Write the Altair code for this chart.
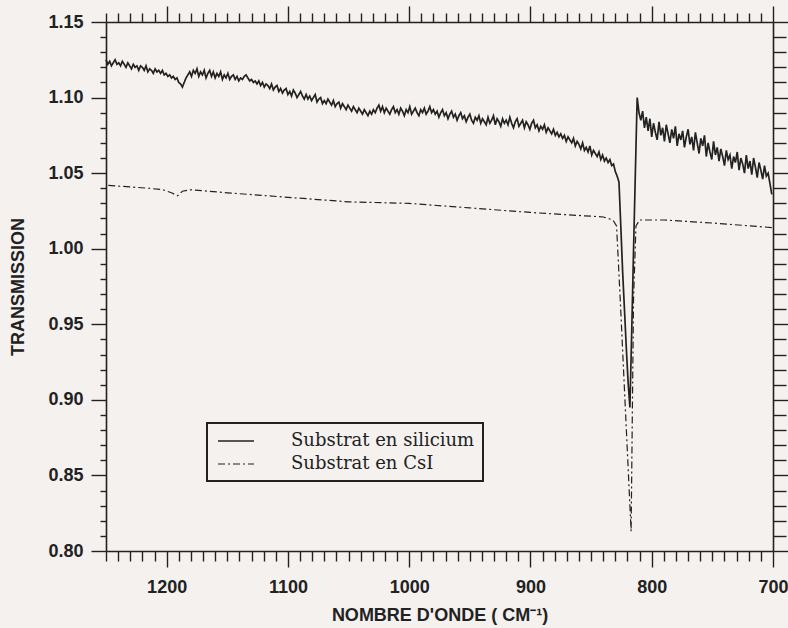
import altair as alt
import pandas as pd

# --- data ---
series_names = ["Substrat en silicium", "Substrat en CsI"]

si_wn = [1250 - 1.5 * k for k in range(367)]  # sampling grid, 1250 ... 701
si_t = [
    1.125, 1.122, 1.124, 1.121, 1.123, 1.125, 1.122, 1.123, 1.121, 1.124,
    1.122, 1.120, 1.123, 1.121, 1.119, 1.122, 1.120, 1.121, 1.118, 1.121,
    1.120, 1.118, 1.121, 1.117, 1.119, 1.118, 1.116, 1.119, 1.117, 1.118,
    1.116, 1.118, 1.115, 1.116, 1.114, 1.115, 1.113, 1.114, 1.112, 1.113,
    1.110, 1.109, 1.107, 1.110, 1.113, 1.115, 1.117, 1.114, 1.118, 1.116,
    1.119, 1.114, 1.117, 1.115, 1.118, 1.113, 1.116, 1.118, 1.114, 1.117,
    1.113, 1.116, 1.114, 1.117, 1.112, 1.115, 1.113, 1.116, 1.112, 1.114,
    1.115, 1.112, 1.114, 1.111, 1.113, 1.112, 1.114, 1.115, 1.113, 1.111,
    1.112, 1.110, 1.111, 1.109, 1.111, 1.108, 1.110, 1.107, 1.109, 1.108,
    1.106, 1.109, 1.105, 1.107, 1.108, 1.104, 1.106, 1.103, 1.105, 1.106,
    1.102, 1.104, 1.101, 1.105, 1.103, 1.100, 1.102, 1.104, 1.101, 1.099,
    1.102, 1.099, 1.101, 1.098, 1.100, 1.102, 1.097, 1.099, 1.100, 1.096,
    1.098, 1.096, 1.099, 1.097, 1.095, 1.098, 1.094, 1.096, 1.097, 1.093,
    1.096, 1.094, 1.092, 1.095, 1.093, 1.091, 1.094, 1.092, 1.090, 1.093,
    1.091, 1.089, 1.092, 1.090, 1.088, 1.091, 1.089, 1.092, 1.090, 1.093,
    1.095, 1.091, 1.094, 1.090, 1.093, 1.091, 1.089, 1.092, 1.094, 1.090,
    1.092, 1.089, 1.093, 1.091, 1.088, 1.092, 1.090, 1.094, 1.089, 1.091,
    1.093, 1.090, 1.088, 1.092, 1.090, 1.093, 1.089, 1.091, 1.094, 1.090,
    1.092, 1.089, 1.091, 1.087, 1.090, 1.092, 1.088, 1.090, 1.086, 1.089,
    1.091, 1.087, 1.089, 1.085, 1.088, 1.090, 1.086, 1.088, 1.084, 1.087,
    1.089, 1.085, 1.083, 1.087, 1.085, 1.088, 1.083, 1.086, 1.084, 1.082,
    1.087, 1.083, 1.085, 1.088, 1.082, 1.086, 1.084, 1.081, 1.086, 1.083,
    1.085, 1.082, 1.087, 1.083, 1.080, 1.084, 1.086, 1.081, 1.083, 1.085,
    1.080, 1.084, 1.082, 1.079, 1.083, 1.085, 1.080, 1.082, 1.078, 1.081,
    1.079, 1.082, 1.077, 1.080, 1.078, 1.076, 1.079, 1.075, 1.077, 1.074,
    1.076, 1.073, 1.075, 1.071, 1.074, 1.072, 1.070, 1.073, 1.068, 1.071,
    1.069, 1.066, 1.070, 1.065, 1.067, 1.064, 1.068, 1.062, 1.065, 1.063,
    1.061, 1.064, 1.059, 1.062, 1.058, 1.060, 1.057, 1.059, 1.055, 1.056,
    1.051, 1.048, 1.044, 1.015, 0.985, 0.960, 0.935, 0.912, 0.895, 0.945,
    0.999, 1.050, 1.100, 1.090, 1.085, 1.091, 1.080, 1.087, 1.078, 1.086,
    1.074, 1.083, 1.077, 1.072, 1.084, 1.075, 1.080, 1.071, 1.082, 1.076,
    1.070, 1.079, 1.073, 1.081, 1.068, 1.076, 1.072, 1.078, 1.067, 1.074,
    1.079, 1.069, 1.074, 1.065, 1.077, 1.070, 1.063, 1.073, 1.068, 1.075,
    1.061, 1.070, 1.064, 1.059, 1.071, 1.062, 1.067, 1.058, 1.066, 1.061,
    1.055, 1.065, 1.059, 1.062, 1.053, 1.061, 1.057, 1.064, 1.052, 1.060,
    1.056, 1.050, 1.062, 1.053, 1.058, 1.049, 1.060, 1.054, 1.047, 1.057,
    1.052, 1.046, 1.055, 1.048, 1.050, 1.043, 1.036,
]

csi_wn = [1250, 1215, 1203, 1196, 1191, 1187, 1180, 1150, 1100, 1050, 1000,
          950, 900, 860, 840, 832, 829, 826, 817, 815, 813, 810, 790, 750, 701]
csi_t = [1.042, 1.040, 1.039, 1.037, 1.035, 1.038, 1.039, 1.037, 1.034, 1.031, 1.030,
         1.027, 1.024, 1.022, 1.021, 1.019, 1.015, 0.967, 0.813, 0.967, 1.015, 1.019,
         1.019, 1.017, 1.014]

x_ticks = list(range(700, 1251, 10))
y_ticks = [round(0.80 + 0.01 * i, 2) for i in range(36)]

df = pd.concat([
    pd.DataFrame({"wn": si_wn, "t": si_t, "s": series_names[0]}),
    pd.DataFrame({"wn": csi_wn, "t": csi_t, "s": series_names[1]}),
])

INK = "#222222"
FONT = "Liberation Sans"

xscale = alt.Scale(domain=[1250, 700], nice=False, zero=False)
yscale = alt.Scale(domain=[0.80, 1.15], nice=False, zero=False)

xmaj = "datum.value % 100 === 0"
ymaj = "round(datum.value * 100) % 5 === 0"

ax_bottom = alt.Axis(
    orient="bottom", values=x_ticks, grid=False,
    tickSize={"condition": {"test": xmaj, "value": 16}, "value": 10},
    labelExpr=f"{xmaj} ? format(datum.value, 'd') : ''", labelOverlap=False,
    labelFlush=False, labelPadding=11, labelFont=FONT, labelFontSize=18,
    labelFontWeight="bold", labelColor=INK,
    title="NOMBRE D'ONDE ( CM⁻¹)", titleFont=FONT, titleFontSize=18,
    titleFontWeight="bold", titleColor=INK, titleY=69, titleBaseline="alphabetic",
)
ax_left = alt.Axis(
    orient="left", values=y_ticks, grid=False,
    tickSize={"condition": {"test": ymaj, "value": 15}, "value": 6},
    labelExpr=f"{ymaj} ? format(datum.value, '.2f') : ''", labelOverlap=False,
    labelFlush=False, labelPadding=8, labelFont=FONT, labelFontSize=18,
    labelFontWeight="bold", labelColor=INK,
    title="TRANSMISSION", titleFont=FONT, titleFontSize=18, titleFontWeight="bold",
    titleColor=INK, titleX=-88, titleY=264.5, titleAngle=270,
    titleBaseline="middle", titleAlign="center",
)
ax_top = alt.Axis(
    orient="top", values=x_ticks, grid=False, labels=False, title=None,
    tickSize={"condition": {"test": xmaj, "value": 16}, "value": 9},
)
ax_right = alt.Axis(
    orient="right", values=y_ticks, grid=False, labels=False, title=None,
    tickSize={"condition": {"test": ymaj, "value": 15}, "value": 13},
)

lines = alt.Chart(df).mark_line(color=INK).encode(
    x=alt.X("wn:Q", scale=xscale, axis=ax_bottom),
    y=alt.Y("t:Q", scale=yscale, axis=ax_left),
    strokeDash=alt.StrokeDash(
        "s:N",
        scale=alt.Scale(domain=series_names, range=[[1, 0], [7, 3, 2, 3]]),
        legend=alt.Legend(
            title=None, orient="none", legendX=101, legendY=401,
            symbolType="M-2,0H2", symbolSize=324, symbolOffset=11,
            symbolStrokeWidth=1.3, symbolStrokeColor=INK, labelOffset=45,
            labelFont="DejaVu Serif", labelFontSize=18, labelColor=INK,
            labelLimit=400, strokeColor=INK, padding=8, rowPadding=4,
        ),
    ),
    strokeWidth=alt.StrokeWidth(
        "s:N", scale=alt.Scale(domain=series_names, range=[1.7, 1.2]), legend=None
    ),
    order=alt.Order("wn:Q"),
)

frame = alt.Chart(df).mark_line(strokeOpacity=0).encode(
    x=alt.X("wn:Q", scale=xscale, axis=ax_top),
    y=alt.Y("t:Q", scale=yscale, axis=ax_right),
)

chart = (
    alt.layer(lines, frame)
    .resolve_axis(x="independent", y="independent")
    .properties(
        width=667, height=529,
        autosize=alt.AutoSizeParams(type="none"),
        padding={"left": 106, "top": 22, "right": 15, "bottom": 77},
        background="#f4f1ef",
    )
    .configure_view(stroke=None)
    .configure_axis(domainColor=INK, domainWidth=1.6, tickColor=INK, tickWidth=1.4)
    .configure_legend(strokeWidth=2)
)

chart.save("out.html", embed_options={"renderer": "svg", "actions": False})
